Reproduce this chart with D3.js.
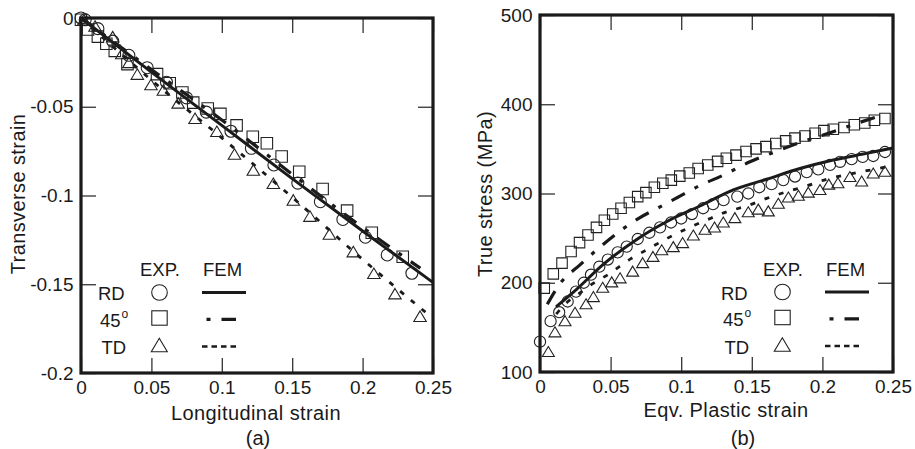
<!DOCTYPE html>
<html><head><meta charset="utf-8">
<script src="https://cdn.jsdelivr.net/npm/d3@7"></script>
<style>
body{margin:0;background:#fff}
svg{display:block}
text{font-family:"Liberation Sans",Arial,sans-serif;fill:#1a1a1a}
</style>
</head><body>
<svg id="c" width="915" height="449"></svg>
<script>
// ---------- Panel (a): transverse vs longitudinal strain ----------
const aXTicks = [0, 0.05, 0.1, 0.15, 0.2, 0.25];
const aXTickLabels = ["0", "0.05", "0.1", "0.15", "0.2", "0.25"];
const aYTicks = [0, -0.05, -0.1, -0.15, -0.2];
const aYTickLabels = ["0", "-0.05", "-0.1", "-0.15", "-0.2"];

const aRDexp = [[0,0],[0.003,-0.001],[0.012,-0.006],[0.0225,-0.013],[0.034,-0.021],[0.047,-0.028],[0.0607,-0.0362],[0.075,-0.045],[0.089,-0.053],[0.1065,-0.0638],[0.121,-0.0734],[0.137,-0.0828],[0.154,-0.093],[0.170,-0.1035],[0.186,-0.1135],[0.202,-0.1235],[0.2175,-0.1335],[0.235,-0.1438]];
const a45exp = [[0,-0.001],[0.005,-0.0065],[0.012,-0.0105],[0.018,-0.0145],[0.024,-0.0185],[0.033,-0.026],[0.054,-0.0316],[0.063,-0.0368],[0.072,-0.042],[0.0797,-0.0477],[0.090,-0.051],[0.099,-0.054],[0.1105,-0.0605],[0.122,-0.0669],[0.132,-0.0706],[0.1425,-0.078],[0.155,-0.0866],[0.1716,-0.0963],[0.189,-0.1085],[0.2065,-0.121],[0.2285,-0.1345]];
const aTDexp = [[0.002,-0.001],[0.010,-0.0045],[0.0225,-0.0105],[0.029,-0.020],[0.034,-0.025],[0.040,-0.0316],[0.0497,-0.0375],[0.0585,-0.0406],[0.069,-0.0478],[0.081,-0.0565],[0.0965,-0.0638],[0.109,-0.0766],[0.1224,-0.0856],[0.1366,-0.0931],[0.1508,-0.1025],[0.1626,-0.1116],[0.1764,-0.1217],[0.1934,-0.1316],[0.208,-0.1438],[0.223,-0.1553],[0.2408,-0.168]];

const aRDfem = [[0,0],[0.05,-0.0305],[0.1,-0.0605],[0.15,-0.0905],[0.2,-0.12],[0.25,-0.149]];
const a45fem = [[0,0],[0.05,-0.029],[0.1,-0.0575],[0.15,-0.088],[0.2,-0.118],[0.241,-0.141]];
const aTDfem = [[0,0],[0.05,-0.035],[0.1,-0.0675],[0.15,-0.101],[0.2,-0.136],[0.245,-0.166]];

// ---------- Panel (b): true stress vs equivalent plastic strain ----------
const bXTicks = [0, 0.05, 0.1, 0.15, 0.2, 0.25];
const bXTickLabels = ["0", "0.05", "0.1", "0.15", "0.2", "0.25"];
const bYTicks = [100, 200, 300, 400, 500];
const bYTickLabels = ["100", "200", "300", "400", "500"];

const bRDexp = [[0,134],[0.0075,157],[0.0136,167],[0.0196,179],[0.0255,190],[0.031,200],[0.0361,209],[0.042,218],[0.048,226],[0.055,234],[0.0614,240.5],[0.0692,249],[0.0774,256],[0.085,262],[0.0928,267.5],[0.1,272],[0.1076,277],[0.1155,283.5],[0.1225,288],[0.13,292.5],[0.1397,296.5],[0.1475,300],[0.1553,307],[0.164,310.5],[0.1723,315],[0.1806,319],[0.1889,324],[0.1971,327],[0.2054,332],[0.2125,335.5],[0.2207,338.5],[0.2285,341],[0.236,342],[0.2443,346.5]];
const b45exp = [[0.003,194],[0.0094,210],[0.0156,222],[0.022,235],[0.028,245],[0.034,253.5],[0.040,262],[0.0456,270],[0.0515,277],[0.0574,283.5],[0.0633,290],[0.0692,296.5],[0.075,301],[0.081,307],[0.087,311.5],[0.093,315],[0.099,319.5],[0.1057,323],[0.112,328],[0.1188,332],[0.1258,336],[0.132,339.5],[0.1388,343],[0.1459,347],[0.153,350],[0.160,352.5],[0.167,356],[0.174,359],[0.1806,362],[0.1877,364.5],[0.1948,367.5],[0.2011,370.5],[0.2077,372],[0.2153,374],[0.2226,377],[0.230,379],[0.2368,382],[0.2443,384]];
const bTDexp = [[0.0059,123],[0.0106,145],[0.0177,157.5],[0.0248,167],[0.0326,176.5],[0.0378,184.5],[0.0444,195],[0.0508,201],[0.0567,205.5],[0.0656,213],[0.0727,222.5],[0.08,229.5],[0.0862,237],[0.0944,240.5],[0.101,245],[0.1086,253.5],[0.1169,260],[0.1236,262.5],[0.1298,268],[0.138,273],[0.1475,279.6],[0.1546,282.5],[0.1617,280.5],[0.1688,289],[0.1759,296],[0.183,298],[0.19,301.5],[0.1983,304.5],[0.2045,310.5],[0.211,312],[0.2195,319],[0.2278,314],[0.236,323],[0.2443,325]];

const bRDfem = [[0.0113,173],[0.0255,192],[0.0444,220],[0.068,248],[0.0916,270],[0.1133,286],[0.1369,304],[0.1605,316],[0.1841,328],[0.2077,337.5],[0.2314,345],[0.25,351]];
const b45fem = [[0.0052,176],[0.0142,199],[0.0283,220],[0.0425,240],[0.0567,258],[0.0708,273],[0.085,285],[0.0968,295],[0.1133,309],[0.1298,320.5],[0.1487,335.5],[0.167,347],[0.184,357],[0.2054,368],[0.2224,377.5],[0.2408,387]];
const bTDfem = [[0.0115,165],[0.0184,177],[0.0278,188],[0.0373,199],[0.048,209],[0.0562,218],[0.0644,227],[0.0763,237.5],[0.0904,250],[0.1046,261],[0.1176,270],[0.1322,279.5],[0.1464,286],[0.1605,294.5],[0.1747,302],[0.1889,308.5],[0.203,316],[0.2172,321],[0.2314,325.5],[0.2443,329.5]];

// ---------- Legend ----------
const legendHeaders = ["EXP.", "FEM"];
const legendRows = ["RD", "45", "TD"];

// ---------- drawing ----------
const svg = d3.select("#c");
const INK = "#1a1a1a";

function trianglePath(w, h) {
  return `M0,${-h/2}L${w/2},${h/2}L${-w/2},${h/2}Z`;
}

function drawPanel(cfg) {
  const x = d3.scaleLinear().domain(cfg.xDomain).range([cfg.x0, cfg.x1]);
  const y = d3.scaleLinear().domain(cfg.yDomain).range([cfg.y1, cfg.y0]);
  const g = svg.append("g");
  const TL = 15;

  // axes (inward ticks on all four sides)
  const bottom = g.append("g").attr("transform", `translate(0,${cfg.y1})`)
    .call(d3.axisBottom(x).tickValues(cfg.xTicks).tickSize(-TL).tickPadding(8)
      .tickFormat((d,i) => cfg.xTickLabels[i]));
  const left = g.append("g").attr("transform", `translate(${cfg.x0},0)`)
    .call(d3.axisLeft(y).tickValues(cfg.yTicks).tickSize(-TL).tickPadding(7.5)
      .tickFormat((d,i) => cfg.yTickLabels[i]));
  const top = g.append("g").attr("transform", `translate(0,${cfg.y0})`)
    .call(d3.axisTop(x).tickValues(cfg.xTicks).tickSize(-TL).tickFormat(""));
  const right = g.append("g").attr("transform", `translate(${cfg.x1},0)`)
    .call(d3.axisRight(y).tickValues(cfg.yTicks).tickSize(-TL).tickFormat(""));
  [bottom, left, top, right].forEach(a => {
    a.select(".domain").remove();
    a.selectAll(".tick line").attr("stroke", "#333").attr("stroke-width", 1.3);
    a.selectAll(".tick text").attr("font-size", 19).attr("fill", INK)
      .attr("font-family", '"Liberation Sans",Arial,sans-serif');
  });

  // lines
  const line = d3.line().x(d => x(d[0])).y(d => y(d[1])).curve(d3.curveMonotoneX);
  cfg.lines.forEach(L => {
    g.append("path").datum(L.data).attr("d", line)
      .attr("fill", "none").attr("stroke", INK)
      .attr("stroke-width", L.width).attr("stroke-dasharray", L.dash || null)
      .attr("stroke-linecap", "butt");
  });

  // markers
  cfg.markers.forEach(M => {
    const sel = g.append("g").selectAll("path").data(M.data).join("path")
      .attr("transform", d => `translate(${x(d[0])},${y(d[1])})`)
      .attr("fill", "none").attr("stroke", "#222").attr("stroke-width", 1.1);
    if (M.type === "circle") sel.attr("d", d3.symbol(d3.symbolCircle, Math.PI * M.r * M.r)());
    if (M.type === "square") sel.attr("d", `M${-M.s/2},${-M.s/2}h${M.s}v${M.s}h${-M.s}Z`);
    if (M.type === "triangle") sel.attr("d", trianglePath(M.w, M.h));
  });

  // frame
  g.append("rect").attr("x", cfg.x0).attr("y", cfg.y0)
    .attr("width", cfg.x1 - cfg.x0).attr("height", cfg.y1 - cfg.y0)
    .attr("fill", "none").attr("stroke", INK).attr("stroke-width", 3.2);

  // axis titles
  g.append("text").attr("x", cfg.xTitleX).attr("y", cfg.xTitleY)
    .attr("text-anchor", "middle").attr("font-size", 20).attr("letter-spacing", 0.4)
    .text(cfg.xTitle);
  g.append("text").attr("transform", `translate(${cfg.yTitleX},${cfg.yTitleY}) rotate(-90)`)
    .attr("text-anchor", "middle").attr("font-size", 20).attr("letter-spacing", 0.4)
    .text(cfg.yTitle);
  g.append("text").attr("x", cfg.capX).attr("y", 445)
    .attr("text-anchor", "middle").attr("font-size", 20).text(cfg.caption);

  drawLegend(cfg.legendDx, cfg.legendDy);
}

function drawLegend(dx, dy) {
  const g = svg.append("g").attr("transform", `translate(${dx},${dy})`);
  const fs = 18.5;
  g.append("text").attr("x", 140).attr("y", 276).attr("font-size", fs).text(legendHeaders[0]);
  g.append("text").attr("x", 203).attr("y", 276).attr("font-size", fs).text(legendHeaders[1]);
  const baseY = [300, 326.5, 354];
  const labelX = [98, 100, 101.5];
  legendRows.forEach((lab, i) => {
    const t = g.append("text").attr("x", labelX[i]).attr("y", baseY[i]).attr("font-size", fs).text(lab);
    if (lab === "45") {
      t.append("tspan").attr("dy", -9).attr("dx", 1).attr("font-size", 12).text("o");
    }
  });
  // markers
  g.append("circle").attr("cx", 159.5).attr("cy", 292.5).attr("r", 7.8)
    .attr("fill", "none").attr("stroke", "#222").attr("stroke-width", 1.1);
  g.append("rect").attr("x", 159.5 - 7.7).attr("y", 318 - 7.2).attr("width", 15.4).attr("height", 14.4)
    .attr("fill", "none").attr("stroke", "#222").attr("stroke-width", 1.1);
  g.append("path").attr("transform", "translate(159.3,345)").attr("d", trianglePath(16, 13.4))
    .attr("fill", "none").attr("stroke", "#222").attr("stroke-width", 1.1);
  // line samples
  g.append("line").attr("x1", 202).attr("x2", 246).attr("y1", 292.5).attr("y2", 292.5)
    .attr("stroke", INK).attr("stroke-width", 3);
  g.append("line").attr("x1", 206.5).attr("x2", 236).attr("y1", 319.3).attr("y2", 319.3)
    .attr("stroke", INK).attr("stroke-width", 3.2).attr("stroke-dasharray", "4,11,15");
  g.append("line").attr("x1", 202).attr("x2", 236).attr("y1", 346.5).attr("y2", 346.5)
    .attr("stroke", INK).attr("stroke-width", 2.4).attr("stroke-dasharray", "5.5,4");
}

drawPanel({
  x0: 81, x1: 433, y0: 18, y1: 373,
  xDomain: [0, 0.25], yDomain: [-0.2, 0],
  xTicks: aXTicks, xTickLabels: aXTickLabels, yTicks: aYTicks, yTickLabels: aYTickLabels,
  xTitle: "Longitudinal strain", xTitleX: 256, xTitleY: 420,
  yTitle: "Transverse strain", yTitleX: 24.5, yTitleY: 194,
  caption: "(a)", capX: 258,
  lines: [
    {data: aRDfem, width: 3},
    {data: a45fem, width: 3.2, dash: "15,11,4,11"},
    {data: aTDfem, width: 2.8, dash: "5,9"}
  ],
  markers: [
    {data: aRDexp, type: "circle", r: 6},
    {data: a45exp, type: "square", s: 11.5},
    {data: aTDexp, type: "triangle", w: 12.5, h: 10.5}
  ],
  legendDx: 0, legendDy: 0
});

drawPanel({
  x0: 540, x1: 893, y0: 15, y1: 372,
  xDomain: [0, 0.25], yDomain: [100, 500],
  xTicks: bXTicks, xTickLabels: bXTickLabels, yTicks: bYTicks, yTickLabels: bYTickLabels,
  xTitle: "Eqv. Plastic strain", xTitleX: 726, xTitleY: 417,
  yTitle: "True stress (MPa)", yTitleX: 492, yTitleY: 194,
  caption: "(b)", capX: 743,
  lines: [
    {data: bRDfem, width: 3},
    {data: b45fem, width: 3.2, dash: "15,11,4,11"},
    {data: bTDfem, width: 2.8, dash: "5,10"}
  ],
  markers: [
    {data: bRDexp, type: "circle", r: 5.6},
    {data: b45exp, type: "square", s: 10.5},
    {data: bTDexp, type: "triangle", w: 12, h: 10}
  ],
  legendDx: 623, legendDy: -0.5
});
</script>
</body></html>
